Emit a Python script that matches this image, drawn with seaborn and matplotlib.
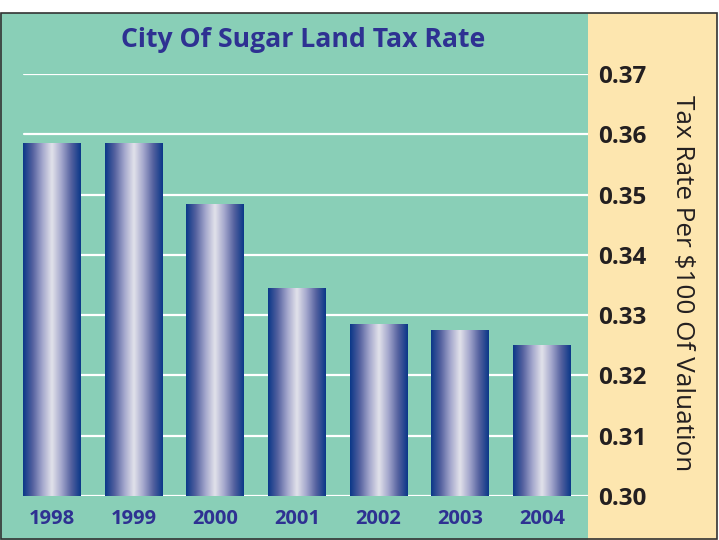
import numpy as np
import matplotlib.pyplot as plt
import seaborn as sns
from matplotlib.colors import LinearSegmentedColormap
from matplotlib.patches import Rectangle

years = ["1998", "1999", "2000", "2001", "2002", "2003", "2004"]
tax_rate = [0.3584, 0.3584, 0.3484, 0.3345, 0.3285, 0.3275, 0.3250]
y_ticks = [0.30, 0.31, 0.32, 0.33, 0.34, 0.35, 0.36, 0.37]

green = "#89cfb7"
beige = "#fde6af"
navy = "#2e3192"

sns.set_style("white")
plt.rcParams["font.family"] = ["Open Sans", "DejaVu Sans"]

W, H = 719, 540
fig = plt.figure(figsize=(W / 100, H / 100), dpi=100)

# background panels (figure pixel -> fraction)
top = (H - 13) / H
fig.patches.append(Rectangle((0, 0), 588 / W, top, transform=fig.transFigure,
                             facecolor=green, edgecolor="none", zorder=-2))
fig.patches.append(Rectangle((588 / W, 0), (717 - 588) / W, top, transform=fig.transFigure,
                             facecolor=beige, edgecolor="none", zorder=-2))
fig.patches.append(Rectangle((0.5 / W, 1 / H), 716.5 / W, top - 1 / H, transform=fig.transFigure,
                             facecolor="none", edgecolor="#333333", linewidth=1.2, zorder=5))

ax = fig.add_axes([11 / W, (H - 496) / H, 577 / W, (496 - 74) / H])
ax.set_facecolor("none")

sns.barplot(x=years, y=tax_rate, ax=ax, width=0.71, color="#1a3f8f",
            linewidth=0, edgecolor="none", zorder=3)

# horizontal gradient fill for bars
grad_cmap = LinearSegmentedColormap.from_list(
    "barshade", ["#0a3788", "#54619f", "#a3a6cc", "#e2e2ea", "#a3a6cc", "#54619f", "#0a3788"])
grad = np.linspace(0, 1, 256).reshape(1, -1)
for p in ax.patches:
    x0, y0 = p.get_x(), p.get_y()
    w, h = p.get_width(), p.get_height()
    ax.imshow(grad, cmap=grad_cmap, aspect="auto", extent=[x0, x0 + w, y0, y0 + h],
              zorder=3, interpolation="bicubic")
    p.set_visible(False)
ax.set_xlim(-0.5, -0.5 + 577 / 81.67)
ax.set_ylim(0.30, 0.37)

# grid lines
for v in y_ticks:
    ax.axhline(v, xmin=13 / 577, xmax=1, color="white", linewidth=1.6, zorder=2)

for s in ax.spines.values():
    s.set_visible(False)

ax.yaxis.tick_right()
ax.set_yticks(y_ticks)
ax.set_yticklabels([f"{v:.2f}" for v in y_ticks], fontsize=17.5, fontweight="bold", color="#231f20")
ax.tick_params(axis="y", length=0, pad=7)
ax.tick_params(axis="x", length=0, pad=9)
for lbl in ax.get_xticklabels():
    lbl.set_fontsize(14.5)
    lbl.set_fontweight("bold")
    lbl.set_color(navy)

fig.text(683 / W, (H - 283) / H, "Tax Rate Per $100 Of Valuation", rotation=-90,
         ha="center", va="center", fontsize=18.8, color="#231f20")
fig.text(303 / W, (H - 40) / H, "City Of Sugar Land Tax Rate", ha="center", va="center",
         fontsize=19.2, fontweight="bold", color=navy)

fig.savefig("out.png", dpi=100)
